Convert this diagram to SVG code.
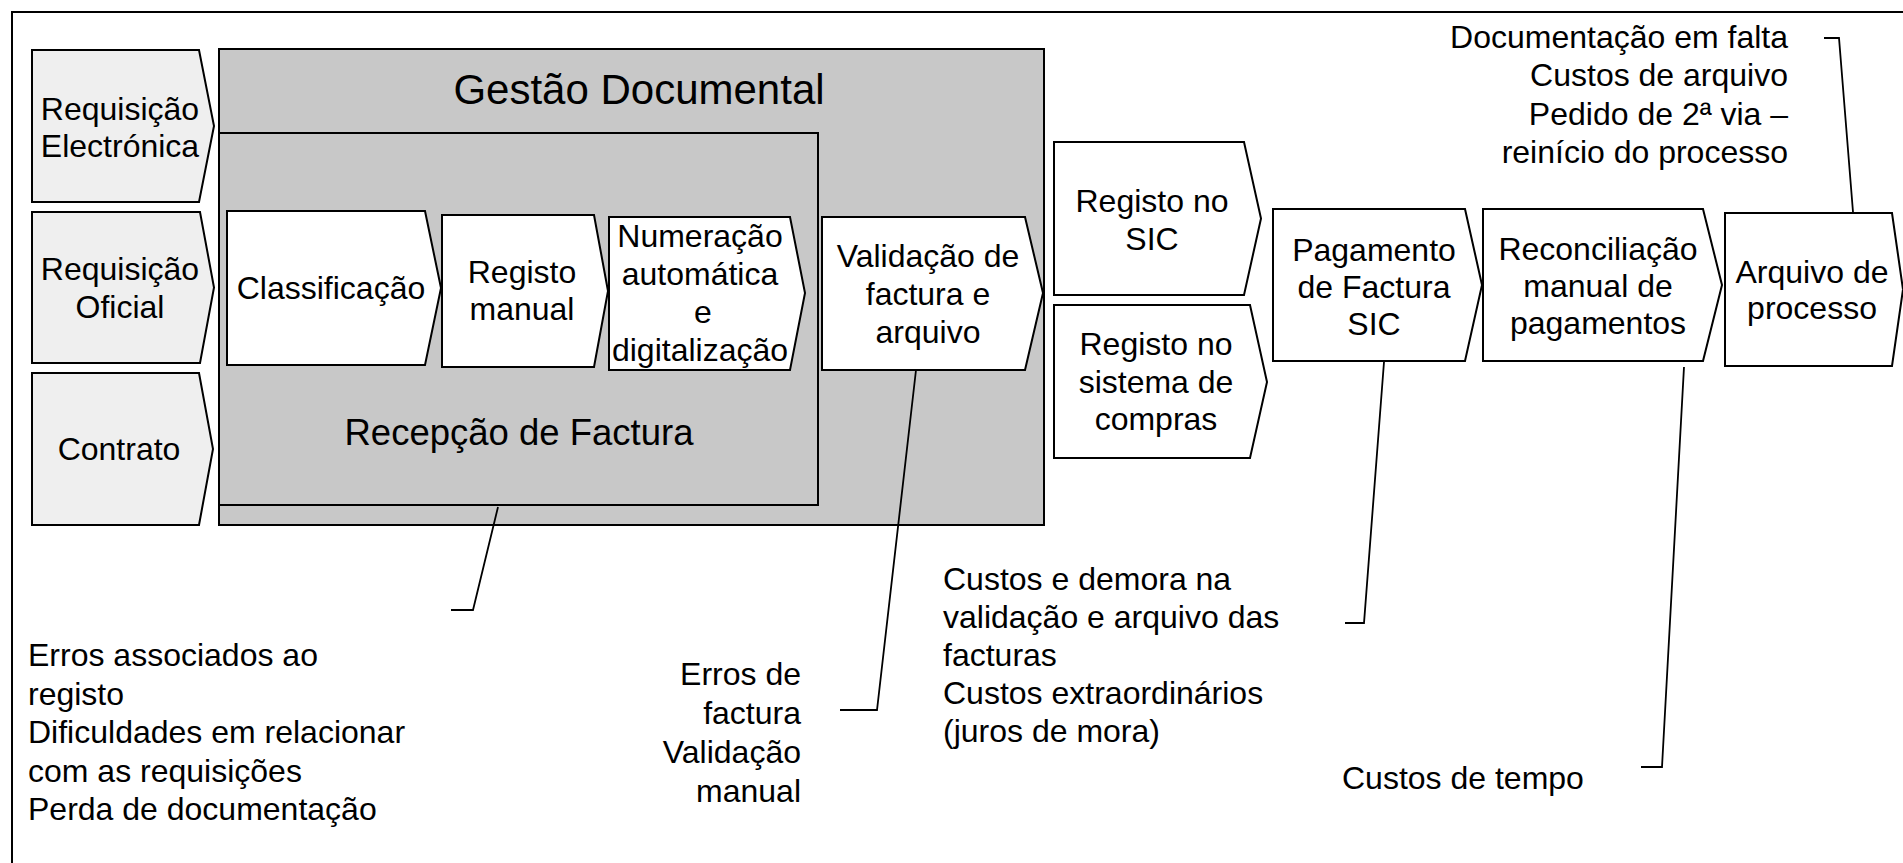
<svg xmlns="http://www.w3.org/2000/svg" width="1903" height="863" viewBox="0 0 1903 863">
<style>
text{font-family:"Liberation Sans",Arial,sans-serif;fill:#000}
.box{stroke:#000;stroke-width:2}
.in{fill:#efefef}
.w{fill:#fff}
.g{fill:#c8c8c8}
.t{font-size:32px;text-anchor:middle}
.n{font-size:32px}
.r{font-size:32px;text-anchor:end}
.c{fill:none;stroke:#000;stroke-width:1.8}
</style>
<rect x="0" y="0" width="1903" height="863" fill="#fff"/>
<rect x="12" y="12" width="2000" height="1000" fill="none" stroke="#000" stroke-width="2"/>

<g id="gestao">
<rect class="box g" x="219" y="49" width="825" height="476"/>
<text x="639" y="104" style="font-size:42px;text-anchor:middle">Gestão Documental</text>
</g>
<g id="recepcao">
<rect class="box g" x="219" y="133" width="599" height="372"/>
<text x="519" y="445" style="font-size:36.5px;text-anchor:middle">Recepção de Factura</text>
</g>

<g id="req-electronica">
<path class="box in" d="M32,50 H199 L214,126 L199,202 H32 Z"/>
<text class="t" x="120" y="120">Requisição</text>
<text class="t" x="120" y="157">Electrónica</text>
</g>
<g id="req-oficial">
<path class="box in" d="M32,212 H200 L214,287.5 L200,363 H32 Z"/>
<text class="t" x="120" y="280">Requisição</text>
<text class="t" x="120" y="318">Oficial</text>
</g>
<g id="contrato">
<path class="box in" d="M32,373 H199 L213,449 L199,525 H32 Z"/>
<text class="t" x="119" y="460">Contrato</text>
</g>

<g id="classificacao">
<path class="box w" d="M227,211 H425 L441,288 L425,365 H227 Z"/>
<text class="t" x="331" y="299">Classificação</text>
</g>
<g id="registo-manual">
<path class="box w" d="M442,215 H594 L608,291 L594,367 H442 Z"/>
<text class="t" x="522" y="283">Registo</text>
<text class="t" x="522" y="320">manual</text>
</g>
<g id="numeracao">
<path class="box w" d="M609,217 H790 L805,293 L790,370 H609 Z"/>
<text class="t" x="700" y="247">Numeração</text>
<text class="t" x="700" y="285">automática</text>
<text class="t" x="703" y="323">e</text>
<text class="t" x="700" y="361">digitalização</text>
</g>
<g id="validacao">
<path class="box w" d="M822,217 H1025 L1043,293 L1025,370 H822 Z"/>
<text class="t" x="928" y="267">Validação de</text>
<text class="t" x="928" y="305">factura e</text>
<text class="t" x="928" y="343">arquivo</text>
</g>
<g id="registo-sic">
<path class="box w" d="M1054,142 H1244 L1261,218.5 L1244,295 H1054 Z"/>
<text class="t" x="1152" y="212">Registo no</text>
<text class="t" x="1152" y="250">SIC</text>
</g>
<g id="registo-compras">
<path class="box w" d="M1054,305 H1250 L1267,382 L1250,458 H1054 Z"/>
<text class="t" x="1156" y="355">Registo no</text>
<text class="t" x="1156" y="393">sistema de</text>
<text class="t" x="1156" y="430">compras</text>
</g>
<g id="pagamento">
<path class="box w" d="M1273,209 H1465 L1482,285 L1465,361 H1273 Z"/>
<text class="t" x="1374" y="261">Pagamento</text>
<text class="t" x="1374" y="298">de Factura</text>
<text class="t" x="1374" y="335">SIC</text>
</g>
<g id="reconciliacao">
<path class="box w" d="M1483,209 H1703 L1722,285 L1703,361 H1483 Z"/>
<text class="t" x="1598" y="260">Reconciliação</text>
<text class="t" x="1598" y="297">manual de</text>
<text class="t" x="1598" y="334">pagamentos</text>
</g>
<g id="arquivo">
<path class="box w" d="M1725,213 H1892 L1903,289.5 L1892,366 H1725 Z"/>
<text class="t" x="1812" y="283">Arquivo de</text>
<text class="t" x="1812" y="319">processo</text>
</g>

<g id="connectors">
<polyline class="c" points="498,507 473,610 451,610"/>
<polyline class="c" points="916,370 877,710 840,710"/>
<polyline class="c" points="1384,362 1364,623 1345,623"/>
<polyline class="c" points="1684,367 1662,767 1641,767"/>
<polyline class="c" points="1853,212 1839,38 1824,38"/>
</g>

<g id="note-recepcao">
<text class="n" x="28" y="666">Erros associados ao</text>
<text class="n" x="28" y="704.5">registo</text>
<text class="n" x="28" y="743">Dificuldades em relacionar</text>
<text class="n" x="28" y="781.5">com as requisições</text>
<text class="n" x="28" y="820">Perda de documentação</text>
</g>
<g id="note-validacao">
<text class="r" x="801" y="685">Erros de</text>
<text class="r" x="801" y="724">factura</text>
<text class="r" x="801" y="763">Validação</text>
<text class="r" x="801" y="802">manual</text>
</g>
<g id="note-pagamento">
<text class="n" x="943" y="590">Custos e demora na</text>
<text class="n" x="943" y="628">validação e arquivo das</text>
<text class="n" x="943" y="666">facturas</text>
<text class="n" x="943" y="704">Custos extraordinários</text>
<text class="n" x="943" y="742">(juros de mora)</text>
</g>
<g id="note-reconciliacao">
<text class="n" x="1342" y="789">Custos de tempo</text>
</g>
<g id="note-arquivo">
<text class="r" x="1788" y="48">Documentação em falta</text>
<text class="r" x="1788" y="86">Custos de arquivo</text>
<text class="r" x="1788" y="124.5">Pedido de 2ª via –</text>
<text class="r" x="1788" y="163">reinício do processo</text>
</g>
</svg>
